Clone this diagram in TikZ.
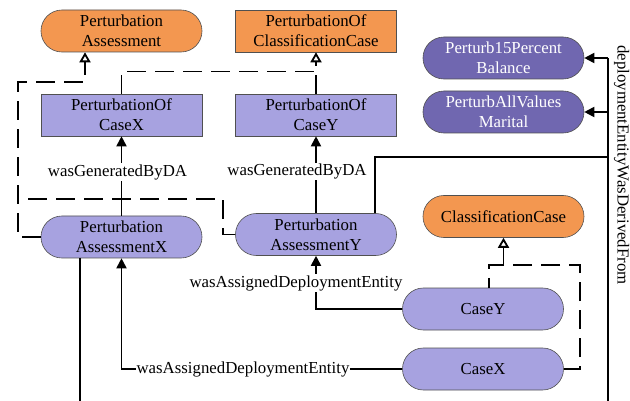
\documentclass[tikz,border=0pt]{standalone}
\usepackage{fontspec}
\setmainfont{Liberation Serif}
\usetikzlibrary{arrows.meta}

\definecolor{orangefill}{RGB}{243,151,80}
\definecolor{lavender}{RGB}{167,162,224}
\definecolor{deeppurple}{RGB}{112,103,176}
\definecolor{edgegray}{RGB}{80,80,80}

\tikzset{
  box/.style={draw=edgegray, line width=0.6pt, minimum width=161pt, minimum height=42pt,
              inner sep=0pt, align=center},
  stadium/.style={box, rounded corners=20.9pt},
  orangebox/.style={fill=orangefill},
  lavbox/.style={fill=lavender},
  deepbox/.style={fill=deeppurple, text=white},
  plainline/.style={line width=1.8pt},
  rel/.style={plainline, -{Triangle[length=10pt,width=10pt]}},
  dashline/.style={plainline, dash pattern=on 19pt off 9pt},
  isa/.style={dashline, -{Triangle[open,length=10pt,width=11pt]}},
  lbl/.style={fill=white, inner sep=1pt}
}

\begin{document}
\begin{tikzpicture}[x=1pt, y=-1pt, font=\fontsize{16.8}{20}\selectfont]
\useasboundingbox (0,0) rectangle (630,401);

% classes and individuals
\node[stadium, orangebox] (pa)   at (121.5,31)  {Perturbation\\Assessment};
\node[box, orangebox]     (pocc) at (316,31)    {PerturbationOf\\ClassificationCase};
\node[box, lavbox]        (pocx) at (121.5,115) {PerturbationOf\\CaseX};
\node[box, lavbox]        (pocy) at (316,115)   {PerturbationOf\\CaseY};
\node[stadium, lavbox]    (pax)  at (121.5,237) {Perturbation\\AssessmentX};
\node[stadium, lavbox]    (pay)  at (316,234.5) {Perturbation\\AssessmentY};
\node[stadium, orangebox] (cc)   at (503.5,216.5) {ClassificationCase};
\node[stadium, lavbox]    (cy)   at (483,309)   {CaseY};
\node[stadium, lavbox]    (cx)   at (483,369)   {CaseX};
\node[stadium, deepbox]   (p15)  at (503.5,58)  {Perturb15Percent\\Balance};
\node[stadium, deepbox]   (pav)  at (503.5,112) {PerturbAllValues\\Marital};

% routing points
\coordinate (j1) at (316,71.5);
\coordinate (j2) at (18,82);
\coordinate (j3) at (85,82);
\coordinate (j4) at (223,199);
\coordinate (k1) at (489,265);
\coordinate (k2) at (580,265);
\coordinate (rtop) at (608,58);
\coordinate (rbot) at (608,401);
\coordinate (q) at (375,157);
\coordinate (xb) at (80,401);

% subclass links
\draw[dashline] (pocx.north) |- (j1);
\draw[isa] (pocy.north) -- (pocc.south);
\draw[isa] (pax.west) -| (j2) -- (j3) -- (j3 |- pa.south);
\draw[dashline] (pay.west) -| (j4) -- (j4 -| j2);
\draw[dashline] (cx.east) -| (k2) -- (k1) -- (k1 |- cy.north);
\draw[isa] (cc.south |- k1) -- (cc.south);

% generation links
\draw[rel] (pax.north) -- node[lbl, pos=0.55, xshift=-4pt] (g1) {wasGeneratedByDA} (pocx.south);
\draw[rel] (pay.north) -- node[lbl, pos=0.54, xshift=-19pt] (g2) {wasGeneratedByDA} (pocy.south);

% deployment entity links
\draw[rel] (cy.west) -| (pay.south);
\node[lbl] (w1) at (296,283) {wasAssignedDeploymentEntity};
\draw[rel] (cx.west) -| (pax.south);
\node[lbl] (w2) at (243,369) {wasAssignedDeploymentEntity};

% derivation bus on the right
\draw[plainline] (rtop) -- (rbot);
\draw[rel] (rtop) -- (p15.east);
\draw[rel] (rtop |- pav.east) -- (pav.east);
\draw[plainline] (q -| rtop) -- (q) -- (q |- pay.north);
\node[rotate=-90, anchor=base, inner sep=0pt] (dl) at (617.5,165) {deploymentEntityWasDerivedFrom};

% outgoing line below AssessmentX
\draw[plainline] (xb |- pax.south) -- (xb);
\end{tikzpicture}
\end{document}
